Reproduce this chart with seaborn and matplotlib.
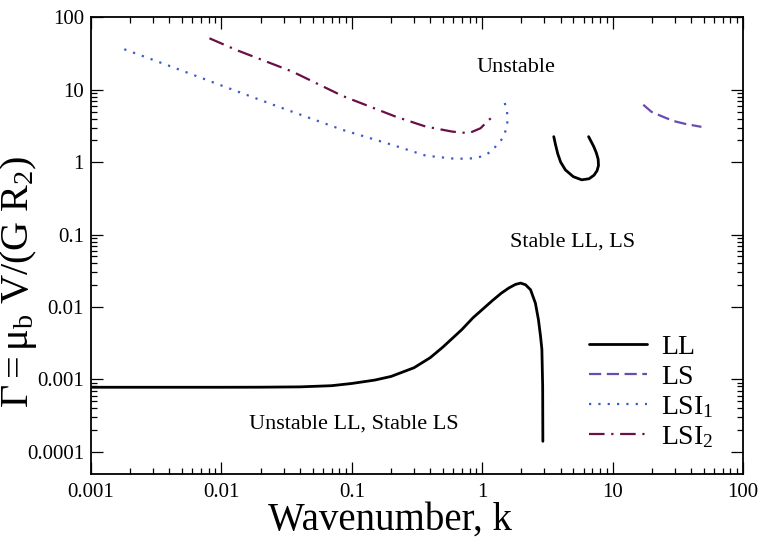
import numpy as np
import pandas as pd
import matplotlib
matplotlib.use("Agg")
import matplotlib.pyplot as plt
import seaborn as sns
from matplotlib.ticker import FixedLocator, FixedFormatter, NullFormatter

# --- data ---
ll_k = [0.001, 0.003, 0.01, 0.02, 0.04, 0.07, 0.1, 0.15, 0.2, 0.3, 0.4, 0.5, 0.7,
        0.85, 1.0, 1.2, 1.4, 1.6, 1.8, 1.97, 2.15, 2.35, 2.56, 2.7, 2.8, 2.87, 2.91, 2.92]
ll_g = [7.8e-4, 7.8e-4, 7.8e-4, 7.82e-4, 7.9e-4, 8.2e-4, 8.8e-4, 9.8e-4, 1.1e-3, 1.45e-3,
        2.0e-3, 2.8e-3, 4.9e-3, 7.1e-3, 9.2e-3, 0.0123, 0.0155, 0.0183, 0.0205, 0.0214,
        0.0203, 0.0173, 0.0113, 0.0067, 0.0040, 0.0026, 0.0008, 0.00014]

loop_k = [3.54, 3.65, 3.8, 4.0, 4.35, 5.0, 5.8, 6.6, 7.2, 7.6, 7.8, 7.75, 7.5, 7.16, 6.55]
loop_g = [2.25, 1.75, 1.3, 1.0, 0.78, 0.63, 0.57, 0.59, 0.66, 0.76, 0.9, 1.1, 1.35, 1.65, 2.25]

ls_k = [17.2, 19.9, 24.6, 29.3, 36.2, 48.0]
ls_g = [6.2, 4.94, 4.2, 3.7, 3.37, 3.07]

lsi1_k = [0.0018, 0.004, 0.0106, 0.028, 0.085, 0.205, 0.369, 0.626, 0.864, 1.03,
          1.19, 1.33, 1.44, 1.53, 1.57, 1.55, 1.47]
lsi1_g = [36.2, 21.3, 11.0, 5.74, 2.79, 1.73, 1.23, 1.11, 1.13, 1.22,
          1.43, 1.83, 2.14, 2.88, 3.83, 4.99, 7.2]

lsi2_k = [0.0081, 0.013, 0.035, 0.085, 0.217, 0.369, 0.589, 0.791, 0.972, 1.125, 1.23]
lsi2_g = [51.3, 35.4, 17.8, 8.2, 4.25, 3.10, 2.64, 2.51, 2.94, 3.83, 4.35]

x_ticks = [0.001, 0.01, 0.1, 1, 10, 100]
x_labels = ["0.001", "0.01", "0.1", "1", "10", "100"]
y_ticks = [0.0001, 0.001, 0.01, 0.1, 1, 10, 100]
y_labels = ["0.0001", "0.001", "0.01", "0.1", "1", "10", "100"]

sns.set_style("ticks")
plt.rcParams["font.family"] = ["Liberation Serif", "DejaVu Serif"]
plt.rcParams["mathtext.fontset"] = "custom"
plt.rcParams["mathtext.rm"] = "Liberation Serif"
plt.rcParams["mathtext.it"] = "Liberation Serif:italic"
for key in ["text.color", "axes.labelcolor", "xtick.color", "ytick.color", "axes.edgecolor"]:
    plt.rcParams[key] = "black"

fig = plt.figure(figsize=(7.6, 5.4), dpi=100)
ax = fig.add_axes([0.1197, 0.1228, 0.8579, 0.8452])

lw = 1.6
sns.lineplot(x=ll_k, y=ll_g, ax=ax, color="black", lw=2.0, sort=False, estimator=None, label="LL")
sns.lineplot(x=loop_k, y=loop_g, ax=ax, color="black", lw=2.0, sort=False, estimator=None)
sns.lineplot(x=ls_k, y=ls_g, ax=ax, color="#6a4cb0", lw=lw, sort=False, estimator=None,
             label="LS", linestyle=(0, (5.5, 2.5)))
sns.lineplot(x=lsi1_k, y=lsi1_g, ax=ax, color="#3a5cc8", lw=lw, sort=False, estimator=None,
             label=r"LSI$_{\mathrm{1}}$", linestyle=(0, (1, 3.2)))
sns.lineplot(x=lsi2_k, y=lsi2_g, ax=ax, color="#6b0f48", lw=lw, sort=False, estimator=None,
             label=r"LSI$_{\mathrm{2}}$", linestyle=(0, (7, 3, 1, 3)))

ax.set_xscale("log")
ax.set_yscale("log")
ax.set_xlim(1e-3, 1e2)
ax.set_ylim(5e-5, 100)

ax.xaxis.set_major_locator(FixedLocator(x_ticks))
ax.xaxis.set_major_formatter(FixedFormatter(x_labels))
x_minor = [m * d for d in [0.001, 0.01, 0.1, 1, 10] for m in range(2, 10)]
ax.xaxis.set_minor_locator(FixedLocator(x_minor))
ax.xaxis.set_minor_formatter(NullFormatter())
ax.yaxis.set_major_locator(FixedLocator(y_ticks))
ax.yaxis.set_major_formatter(FixedFormatter(y_labels))
y_minor = [m * d for d in [0.0001, 0.01, 1] for m in range(2, 10)]
ax.yaxis.set_minor_locator(FixedLocator(y_minor))
ax.yaxis.set_minor_formatter(NullFormatter())

ax.tick_params(which="both", direction="in", top=True, right=True, width=0.9, color="black")
ax.tick_params(which="major", length=8.6, labelsize=15)
ax.tick_params(axis="x", which="major", pad=7)
ax.tick_params(axis="y", which="major", pad=5)
ax.tick_params(which="minor", length=4)
for s in ax.spines.values():
    s.set_linewidth(1.3)

ax.set_xlabel("Wavenumber, k", fontsize=28)
ax.set_ylabel(r"$\mathrm{\Gamma = \mu_b\ V/(G\ R_2)}$", fontsize=29)
ax.xaxis.set_label_coords(0.459, -0.062)
ax.yaxis.set_label_coords(-0.079, 0.42)

ax.text(1.81, 17.4, "Unstable", fontsize=16, ha="center", va="baseline")
ax.text(4.92, 0.0685, "Stable LL, LS", fontsize=16, ha="center", va="baseline")
ax.text(0.104, 2.07e-4, "Unstable LL, Stable LS", fontsize=16, ha="center", va="baseline")

ax.legend(loc="upper left", bbox_to_anchor=(0.764, 0.305), frameon=False, fontsize=20,
          handlelength=2.1, handletextpad=0.5, borderpad=0, borderaxespad=0,
          labelspacing=0.15)

fig.savefig("out.png", dpi=100)
